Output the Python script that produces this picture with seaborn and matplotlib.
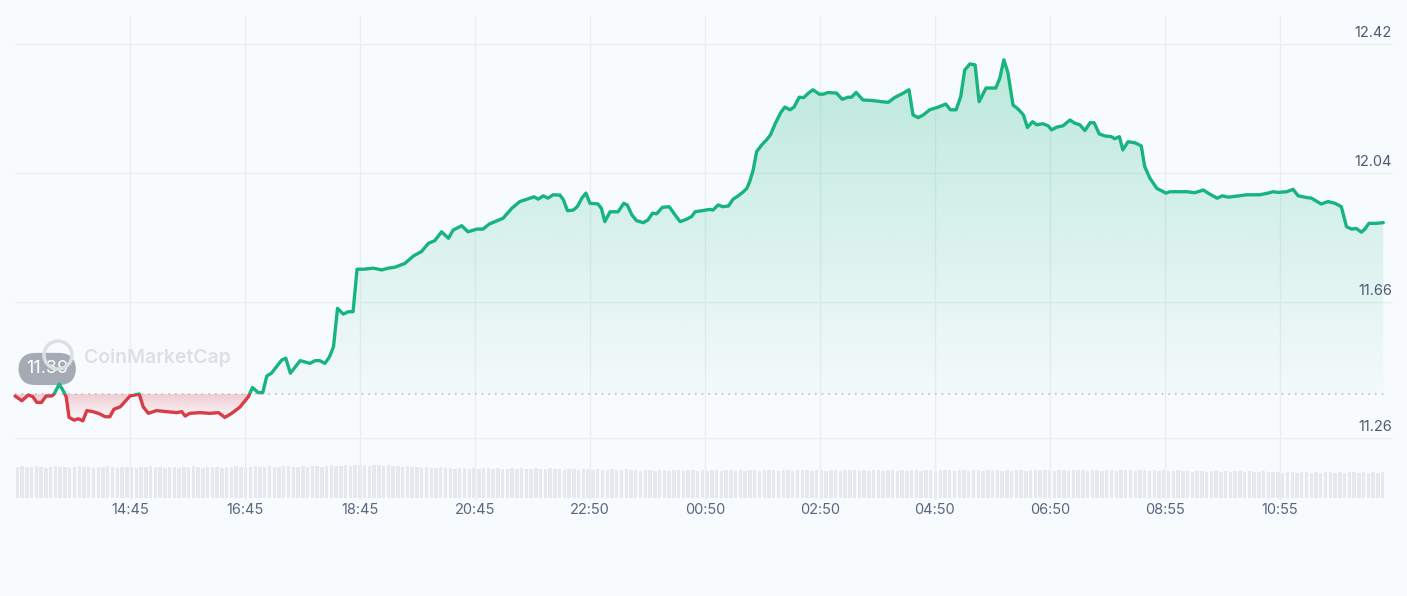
import numpy as np
import matplotlib.pyplot as plt
import seaborn as sns
from matplotlib.patches import Rectangle, Circle
from matplotlib.path import Path
from matplotlib.colors import to_rgb
from matplotlib.transforms import IdentityTransform

# hours since 12:45 and price (USD)
hours = [0.00, 0.12, 0.23, 0.31, 0.38, 0.46, 0.54, 0.64, 0.68, 0.77, 0.85, 0.89, 0.94, 1.03, 1.10,
         1.18, 1.25, 1.35, 1.45, 1.57, 1.65, 1.72, 1.83, 1.91, 2.00, 2.09, 2.16, 2.23, 2.32, 2.46,
         2.64, 2.81, 2.90, 2.96, 3.04, 3.22, 3.39, 3.54, 3.65, 3.77, 3.91, 4.06, 4.13, 4.23, 4.31,
         4.38, 4.46, 4.64, 4.71, 4.79, 4.96, 5.13, 5.22, 5.30, 5.39, 5.47, 5.54, 5.61, 5.71, 5.80,
         5.88, 5.95, 6.06, 6.23, 6.38, 6.49, 6.61, 6.78, 6.93, 7.07, 7.19, 7.30, 7.42, 7.54, 7.62,
         7.77, 7.88, 8.03, 8.14, 8.25, 8.35, 8.49, 8.64, 8.78, 8.96, 9.03, 9.10, 9.19, 9.27, 9.36,
         9.48, 9.54, 9.61, 9.71, 9.78, 9.86, 9.93, 10.00, 10.14, 10.20, 10.26, 10.35, 10.49, 10.59, 10.65,
         10.73, 10.81, 10.93, 11.01, 11.09, 11.16, 11.26, 11.38, 11.48, 11.57, 11.68, 11.77, 11.83, 11.94, 12.09,
         12.14, 12.23, 12.31, 12.41, 12.49, 12.58, 12.67, 12.73, 12.78, 12.84, 12.90, 12.99, 13.07, 13.14, 13.23,
         13.32, 13.39, 13.48, 13.55, 13.64, 13.72, 13.80, 13.88, 13.99, 14.06, 14.14, 14.29, 14.39, 14.49, 14.55,
         14.63, 14.75, 14.93, 15.07, 15.19, 15.30, 15.45, 15.55, 15.62, 15.71, 15.80, 15.91, 16.06, 16.19, 16.27,
         16.37, 16.45, 16.52, 16.61, 16.70, 16.77, 16.89, 16.99, 17.06, 17.13, 17.20, 17.27, 17.36, 17.45, 17.54,
         17.61, 17.70, 17.77, 17.88, 17.97, 18.03, 18.12, 18.23, 18.35, 18.43, 18.52, 18.61, 18.70, 18.77, 18.86,
         18.96, 19.07, 19.13, 19.21, 19.27, 19.36, 19.48, 19.59, 19.65, 19.74, 19.86, 20.02, 20.09, 20.38, 20.52,
         20.67, 20.78, 20.91, 21.00, 21.10, 21.30, 21.42, 21.65, 21.80, 21.88, 21.97, 22.12, 22.23, 22.32, 22.43,
         22.55, 22.72, 22.84, 22.96, 23.07, 23.16, 23.25, 23.33, 23.42, 23.48, 23.55, 23.68, 23.80]
price = [11.384, 11.370, 11.387, 11.382, 11.365, 11.365, 11.384, 11.384, 11.390, 11.419, 11.396, 11.382, 11.321, 11.313, 11.317,
         11.311, 11.341, 11.338, 11.333, 11.323, 11.323, 11.345, 11.352, 11.367, 11.384, 11.387, 11.390, 11.352, 11.333, 11.341,
         11.338, 11.335, 11.338, 11.325, 11.333, 11.335, 11.333, 11.335, 11.321, 11.333, 11.351, 11.382, 11.409, 11.394, 11.394,
         11.443, 11.451, 11.490, 11.495, 11.451, 11.488, 11.480, 11.488, 11.488, 11.480, 11.499, 11.529, 11.642, 11.625, 11.632,
         11.632, 11.757, 11.757, 11.760, 11.755, 11.760, 11.763, 11.774, 11.796, 11.809, 11.833, 11.841, 11.867, 11.848, 11.872,
         11.885, 11.867, 11.875, 11.875, 11.890, 11.897, 11.907, 11.936, 11.956, 11.966, 11.970, 11.963, 11.973, 11.966, 11.976,
         11.975, 11.961, 11.929, 11.931, 11.941, 11.966, 11.981, 11.951, 11.949, 11.936, 11.897, 11.926, 11.926, 11.951, 11.946,
         11.917, 11.900, 11.894, 11.902, 11.922, 11.920, 11.939, 11.941, 11.917, 11.897, 11.904, 11.912, 11.926, 11.929, 11.933,
         11.931, 11.946, 11.941, 11.943, 11.963, 11.973, 11.985, 11.995, 12.015, 12.049, 12.103, 12.123, 12.137, 12.152, 12.188,
         12.218, 12.234, 12.226, 12.234, 12.263, 12.262, 12.275, 12.285, 12.272, 12.272, 12.277, 12.275, 12.257, 12.263, 12.263,
         12.277, 12.255, 12.253, 12.250, 12.248, 12.262, 12.275, 12.285, 12.211, 12.203, 12.211, 12.226, 12.234, 12.243, 12.226,
         12.226, 12.265, 12.343, 12.361, 12.358, 12.250, 12.290, 12.290, 12.290, 12.319, 12.373, 12.336, 12.240, 12.228, 12.211,
         12.174, 12.191, 12.182, 12.185, 12.179, 12.167, 12.175, 12.179, 12.196, 12.187, 12.182, 12.165, 12.188, 12.188, 12.155,
         12.149, 12.147, 12.141, 12.147, 12.108, 12.132, 12.129, 12.120, 12.059, 12.025, 11.995, 11.981, 11.985, 11.985, 11.982,
         11.990, 11.978, 11.966, 11.973, 11.969, 11.973, 11.976, 11.976, 11.981, 11.985, 11.983, 11.985, 11.992, 11.973, 11.969,
         11.966, 11.949, 11.956, 11.951, 11.941, 11.882, 11.875, 11.877, 11.866, 11.875, 11.892, 11.892, 11.894]

# 5-minute volume (arbitrary units)
volume = [
    31, 32, 31, 31, 32, 31, 30, 31, 32, 31, 31, 30, 31, 32, 31, 31, 30, 31, 31, 32, 31, 30, 31, 31,
    31, 30, 31, 31, 32, 31, 31, 30, 31, 31, 30, 31, 31, 32, 31, 30, 31, 31, 31, 30, 31, 31, 32, 31,
    31, 31, 32, 31, 31, 32, 31, 31, 32, 32, 31, 31, 32, 31, 32, 32, 31, 32, 33, 32, 32, 33, 32, 33,
    33, 33, 32, 33, 33, 32, 33, 32, 32, 31, 32, 31, 31, 30, 31, 30, 30, 31, 30, 30, 29, 30, 30, 29,
    30, 29, 30, 30, 29, 30, 29, 29, 30, 29, 30, 29, 29, 30, 29, 29, 30, 29, 29, 28, 29, 29, 28, 29,
    29, 28, 29, 28, 28, 29, 28, 28, 29, 28, 28, 27, 28, 28, 27, 28, 28, 27, 28, 28, 27, 28, 28, 27,
    28, 27, 28, 28, 27, 28, 28, 27, 28, 27, 28, 28, 27, 28, 28, 28, 27, 28, 28, 27, 28, 28, 28, 27,
    28, 28, 27, 28, 28, 27, 28, 28, 28, 27, 28, 27, 28, 28, 27, 28, 28, 27, 28, 27, 28, 28, 27, 28,
    28, 27, 28, 28, 28, 27, 28, 28, 27, 28, 28, 27, 28, 28, 28, 27, 28, 27, 28, 28, 27, 28, 28, 28,
    28, 28, 27, 28, 28, 27, 28, 28, 28, 27, 28, 28, 27, 28, 28, 27, 28, 28, 28, 27, 28, 28, 27, 28,
    27, 28, 27, 27, 28, 27, 27, 26, 27, 27, 26, 27, 27, 26, 27, 26, 27, 27, 26, 27, 26, 26, 27, 26,
    26, 26, 25, 26, 26, 25, 26, 26, 25, 26, 25, 26, 26, 25, 26, 25, 26, 26, 25, 26, 25, 26, 25, 26]

base_price = 11.39
x_tick_hours = [2, 4, 6, 8, 10, 12, 14, 16, 18, 20, 22]
x_tick_labels = ['14:45', '16:45', '18:45', '20:45', '22:50', '00:50',
                 '02:50', '04:50', '06:50', '08:55', '10:55']
y_ticks = [11.26, 11.66, 12.04, 12.42]
y_tick_labels = ['11.26', '11.66', '12.04', '12.42']

green = '#17b57d'
red = '#d83c47'
bg = '#f8fbfe'
grid_c = '#eaeef3'
txt = '#58667e'

sns.set_theme(style='white')
plt.rcParams['font.family'] = ['Inter', 'DejaVu Sans']

W, H = 1407, 596
fig = plt.figure(figsize=(W / 100, H / 100), dpi=100)
fig.patch.set_facecolor(bg)


def box(x0, y0, x1, y1):
    return [x0 / W, 1 - y1 / H, (x1 - x0) / W, (y1 - y0) / H]


# volume strip
vax = fig.add_axes(box(15, 440, 1385, 498))
vax.set_facecolor('none')
sns.barplot(x=list(range(len(volume))), y=volume, color='#e5e8ed', saturation=1,
            width=0.72, edgecolor='none', ax=vax)
vax.set_xlim(-0.5, len(volume) - 0.5)
vax.set_ylim(0, 58)
vax.axis('off')

# price chart
ax = fig.add_axes(box(15, 16, 1385, 500))
ax.set_facecolor('none')
for s in ax.spines.values():
    s.set_visible(False)

hx = np.array(hours)
py = np.array(price)
x_max = 23.83

# gradient fills
above = ax.fill_between(hx, py, base_price, where=py >= base_price, interpolate=True,
                        facecolor='none', edgecolor='none')
below = ax.fill_between(hx, py, base_price, where=py <= base_price, interpolate=True,
                        facecolor='none', edgecolor='none')

g = np.zeros((256, 1, 4))
g[..., :3] = to_rgb(green)
g[:, 0, 3] = np.linspace(0.27, 0.02, 256)
im = ax.imshow(g, extent=[0, x_max, base_price, py.max()], aspect='auto',
               origin='upper', zorder=1, interpolation='bilinear')
im.set_clip_path(Path.make_compound_path(*above.get_paths()), ax.transData)

r = np.zeros((256, 1, 4))
r[..., :3] = to_rgb(red)
r[:, 0, 3] = np.linspace(0.24, 0.0, 256)
im2 = ax.imshow(r, extent=[0, x_max, py.min(), base_price], aspect='auto',
                origin='upper', zorder=1, interpolation='bilinear')
im2.set_clip_path(Path.make_compound_path(*below.get_paths()), ax.transData)

# grid
ax.set_xticks(x_tick_hours)
ax.set_xticklabels(x_tick_labels)
ax.grid(axis='x', color=grid_c, lw=1)
ax.set_yticks([])
for v, lab in zip(y_ticks, y_tick_labels):
    ax.axhline(v, xmin=0, xmax=1.0051, color=grid_c, lw=1, clip_on=False, zorder=0)
    ax.annotate(lab, xy=(1.0051, v), xycoords=('axes fraction', 'data'),
                xytext=(0, 8), textcoords='offset points', ha='right', va='center',
                color='#4f5b6d', fontsize=10.5)

ax.axhline(base_price, color='#b9bfc9', lw=1.2, ls=(0, (1, 3)), zorder=1)

# watermark
fig.text(84 / W, 1 - 358 / H, 'CoinMarketCap', color='#dcdfe4', fontsize=14,
         fontweight='semibold', ha='left', va='center')
fig.add_artist(Circle((58, H - 355), 14, transform=IdentityTransform(), fill=False,
                      ec='#dcdfe4', lw=2.5))

# badge
ax.annotate(f'{base_price:.2f}', xy=(0.0235, base_price), xycoords=('axes fraction', 'data'),
            xytext=(0, 18), textcoords='offset points', ha='center', va='center',
            color='white', fontsize=13, zorder=2,
            bbox=dict(boxstyle='round,pad=0.42,rounding_size=0.95', fc='#a5aab4', ec='none'))

# price line, green above baseline, red below
sns.lineplot(x=hours, y=price, color=green, lw=2.4, estimator=None, sort=False, ax=ax, zorder=3)
ln = ax.lines[-1]
ln.set_solid_joinstyle('round')
ln.set_clip_path(Rectangle((-1, base_price), 30, 5, transform=ax.transData))
sns.lineplot(x=hours, y=price, color=red, lw=2.4, estimator=None, sort=False, ax=ax, zorder=3)
ln2 = ax.lines[-1]
ln2.set_solid_joinstyle('round')
ln2.set_clip_path(Rectangle((-1, base_price - 5), 30, 5, transform=ax.transData))

ax.set_xlim(0, x_max)
ax.set_ylim(11.078, 12.502)
ax.set_xlabel('')
ax.set_ylabel('')
ax.tick_params(axis='x', length=0, pad=2, labelcolor=txt, labelsize=10.5)

fig.savefig('out.png', dpi=100, facecolor=bg)
